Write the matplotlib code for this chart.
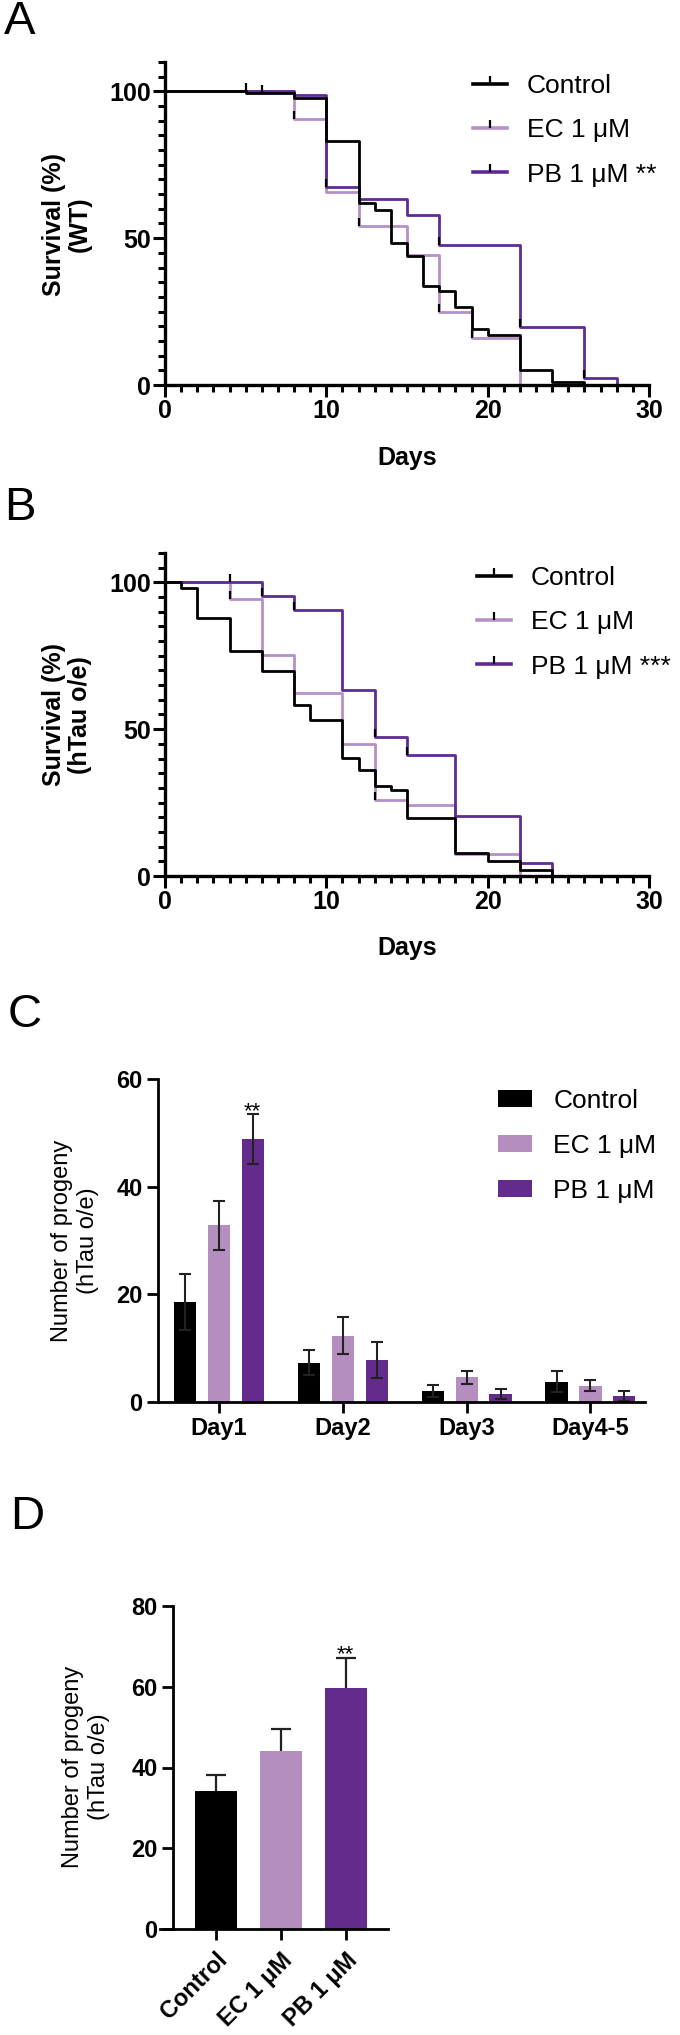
import numpy as np
import matplotlib
matplotlib.use("Agg")
import matplotlib.pyplot as plt
from matplotlib.lines import Line2D
from matplotlib.path import Path

# ---- data ----
# A: survival, WT
ctrl_a_days = [0, 5, 8, 10, 12, 13, 14, 15, 16, 17, 18, 19, 20, 22, 24, 26]
ctrl_a_surv = [100, 99.4, 97.7, 83, 62, 59.5, 48.5, 44, 33.7, 32, 26.5, 19, 17, 5.2, 1, 0]
ec_a_days = [0, 8, 10, 12, 15, 17, 19, 22]
ec_a_surv = [100, 90.7, 65.8, 54.2, 44.2, 25, 16, 0]
pb_a_days = [0, 8, 10, 12, 15, 17, 22, 26, 28]
pb_a_surv = [100, 98.6, 67.3, 63.4, 57.8, 47.8, 19.6, 2.5, 0]
ctrl_a_cens = ([5, 6], [100, 99.4])
ec_a_cens = ([8, 12, 17, 19], [90.7, 54.2, 25, 16])
pb_a_cens = ([10, 17, 22, 26], [67.3, 47.8, 19.6, 2.5])

# B: survival, hTau o/e
ctrl_b_days = [0, 1, 2, 4, 6, 8, 9, 11, 12, 13, 14, 15, 18, 20, 22, 24]
ctrl_b_surv = [100, 98, 88, 76.7, 69.8, 58.3, 53.2, 40.2, 36, 30.5, 29.3, 19.7, 7.7, 5.1, 2, 0]
ec_b_days = [0, 4, 6, 8, 11, 13, 15, 18, 22]
ec_b_surv = [100, 94.3, 75.3, 62.3, 45, 26, 24.2, 7.5, 0]
pb_b_days = [0, 6, 8, 11, 13, 15, 18, 22, 24]
pb_b_surv = [100, 95.3, 90.6, 63.5, 47.5, 41.2, 20.5, 4.5, 0]
ctrl_b_cens = ([4], [100])
ec_b_cens = ([4, 13], [94.3, 26])
pb_b_cens = ([6, 8, 13, 15], [95.3, 90.6, 47.5, 41.2])

# C: progeny per day
days_c = ["Day1", "Day2", "Day3", "Day4-5"]
ctrl_c = [18.5, 7.3, 2.1, 3.8]
ctrl_c_err = [5.2, 2.3, 1.1, 1.9]
ec_c = [32.8, 12.3, 4.6, 3.0]
ec_c_err = [4.6, 3.4, 1.2, 1.0]
pb_c = [48.9, 7.8, 1.5, 1.1]
pb_c_err = [4.6, 3.3, 1.0, 1.0]

# D: total progeny
groups_d = ["Control", "EC 1 μM", "PB 1 μM"]
prog_d = [34.2, 44.1, 59.8]
prog_d_err = [4.0, 5.5, 7.3]

BLACK = "#000000"
EC_LINE = "#b491c6"
PB_LINE = "#5e2b95"
EC_BAR = "#b38ebf"
PB_BAR = "#632c8c"

FONT = ["Liberation Sans", "DejaVu Sans"]
plt.rcParams["font.family"] = FONT

W, H = 680, 2035
fig = plt.figure(figsize=(W / 100, H / 100), dpi=100)


def box(l, t, r, b):
    return [l / W, 1 - b / H, (r - l) / W, (b - t) / H]


def bold_ticks(ax):
    for t in ax.get_xticklabels() + ax.get_yticklabels():
        t.set_fontweight("bold")


tick_up = Path([(0, 0), (0, 1)])


def survival(ax, curves, cens):
    for (d, s, c), (cx, cy) in zip(curves, cens):
        ax.step(d, s, where="post", color=c, lw=2.0, clip_on=False)
        ax.plot(cx, cy, ls="none", marker=tick_up, color="k", ms=11, mew=1.6, clip_on=False)
    ax.set_xlim(0, 30)
    ax.set_ylim(0, 110)
    ax.set_xticks([0, 10, 20, 30])
    ax.set_xticks(np.arange(0, 31, 1), minor=True)
    ax.set_yticks([0, 50, 100])
    ax.set_yticks(np.arange(0, 111, 5), minor=True)
    for s in ["top", "right"]:
        ax.spines[s].set_visible(False)
    for s in ["left", "bottom"]:
        ax.spines[s].set_linewidth(2.4)
    ax.tick_params(which="major", length=8.5, width=2.2, labelsize=18, pad=1.5)
    ax.tick_params(which="minor", length=4.8, width=2.2)
    bold_ticks(ax)


def surv_legend(ax, x, y, labels):
    cols = [BLACK, EC_LINE, PB_LINE]
    handles = [(Line2D([], [], color=c, lw=2.6),
                Line2D([], [], ls="none", marker=tick_up, color="k", ms=11, mew=1.6))
               for c in cols]
    ax.legend(handles, labels, loc="upper left", bbox_to_anchor=(x / W, 1 - y / H),
              bbox_transform=fig.transFigure, frameon=False, borderpad=0, borderaxespad=0,
              handlelength=1.3, handletextpad=0.75, labelspacing=0.77, numpoints=1,
              prop={"family": FONT, "size": 19})


# ---- A ----
axA = fig.add_axes(box(165, 62, 649, 385))
survival(axA, [(ec_a_days, ec_a_surv, EC_LINE), (pb_a_days, pb_a_surv, PB_LINE),
               (ctrl_a_days, ctrl_a_surv, BLACK)],
         [ec_a_cens, pb_a_cens, ctrl_a_cens])
surv_legend(axA, 473, 74, ["Control", "EC 1 μM", "PB 1 μM **"])
fig.text(67 / W, 1 - 224 / H, "Survival (%)\n(WT)", rotation=90, ha="center", va="center",
         fontsize=18, fontweight="bold", linespacing=1.1)
fig.text(407 / W, 1 - 458 / H, "Days", ha="center", va="center", fontsize=18, fontweight="bold")

# ---- B ----
axB = fig.add_axes(box(165, 553, 649, 876))
survival(axB, [(ec_b_days, ec_b_surv, EC_LINE), (pb_b_days, pb_b_surv, PB_LINE),
               (ctrl_b_days, ctrl_b_surv, BLACK)],
         [ec_b_cens, pb_b_cens, ctrl_b_cens])
surv_legend(axB, 477, 566, ["Control", "EC 1 μM", "PB 1 μM ***"])
fig.text(67 / W, 1 - 715 / H, "Survival (%)\n(hTau o/e)", rotation=90, ha="center", va="center",
         fontsize=18, fontweight="bold", linespacing=1.1)
fig.text(407 / W, 1 - 948 / H, "Days", ha="center", va="center", fontsize=18, fontweight="bold")

# ---- C ----
axC = fig.add_axes(box(158, 1079, 645, 1402))
xc = np.arange(len(days_c))
off, bw = 0.274, 0.178
ekw = dict(ecolor="#222222", elinewidth=1.5, capsize=4, capthick=1.5)
axC.bar(xc - off, ctrl_c, bw, color=BLACK, yerr=ctrl_c_err, error_kw=ekw, label="Control")
axC.bar(xc, ec_c, bw, color=EC_BAR, yerr=ec_c_err, error_kw=ekw, label="EC 1 μM")
axC.bar(xc + off, pb_c, bw, color=PB_BAR, yerr=pb_c_err, error_kw=ekw, label="PB 1 μM")
axC.text(xc[0] + off, pb_c[0] + pb_c_err[0] - 0.6, "**", ha="center", va="baseline", fontsize=16)
axC.set_xlim(-0.49, 3.44)
axC.set_ylim(0, 60)
axC.set_yticks([0, 20, 40, 60])
axC.set_xticks(xc)
axC.set_xticklabels(days_c)
for s in ["top", "right"]:
    axC.spines[s].set_visible(False)
for s in ["left", "bottom"]:
    axC.spines[s].set_linewidth(2.0)
axC.tick_params(length=8, width=2.0, labelsize=17, pad=3)
bold_ticks(axC)
axC.legend(loc="upper left", bbox_to_anchor=(498 / W, 1 - 1089 / H), bbox_transform=fig.transFigure,
           frameon=False, borderpad=0, borderaxespad=0, handlelength=1.3, handleheight=0.62,
           handletextpad=0.8, labelspacing=0.8, prop={"family": FONT, "size": 19})
fig.text(75 / W, 1 - 1241 / H, "Number of progeny\n(hTau o/e)", rotation=90, ha="center",
         va="center", fontsize=17, linespacing=1.25)

# ---- D ----
axD = fig.add_axes(box(160, 1606, 388, 1929))
xd = np.arange(len(groups_d))
bars_d = axD.bar(xd, prog_d, 0.65, color=[BLACK, EC_BAR, PB_BAR],
                 yerr=[np.zeros(len(prog_d)), prog_d_err],
                 error_kw=dict(ecolor="#222222", elinewidth=1.6, capsize=7.5, capthick=1.6))
# mean + SEM only: hide the cap sitting on the bar top
for cap in bars_d.errorbar.lines[1]:
    if np.allclose(cap.get_ydata(), prog_d):
        cap.set_visible(False)
axD.text(xd[2], prog_d[2] + prog_d_err[2] - 0.6, "**", ha="center", va="baseline", fontsize=16)
axD.set_xlim(-0.86, 2.65)
axD.set_ylim(0, 80)
axD.set_yticks([0, 20, 40, 60, 80])
axD.set_xticks(xd)
axD.set_xticklabels(groups_d, rotation=45, ha="right", va="top", rotation_mode="anchor")
axD.spines["left"].set_position(("data", -0.66))
for s in ["top", "right"]:
    axD.spines[s].set_visible(False)
for s in ["left", "bottom"]:
    axD.spines[s].set_linewidth(2.0)
axD.tick_params(length=8, width=2.0, labelsize=17, pad=3)
axD.tick_params(axis="x", pad=6)
bold_ticks(axD)
fig.text(86 / W, 1 - 1767 / H, "Number of progeny\n(hTau o/e)", rotation=90, ha="center",
         va="center", fontsize=17, linespacing=1.25)

# panel letters
for letter, x, y in [("A", 20, 22), ("B", 20, 508), ("C", 25, 1015), ("D", 27, 1517)]:
    fig.text(x / W, 1 - y / H, letter, ha="center", va="center", fontsize=34)

fig.savefig("out.png", dpi=100)
